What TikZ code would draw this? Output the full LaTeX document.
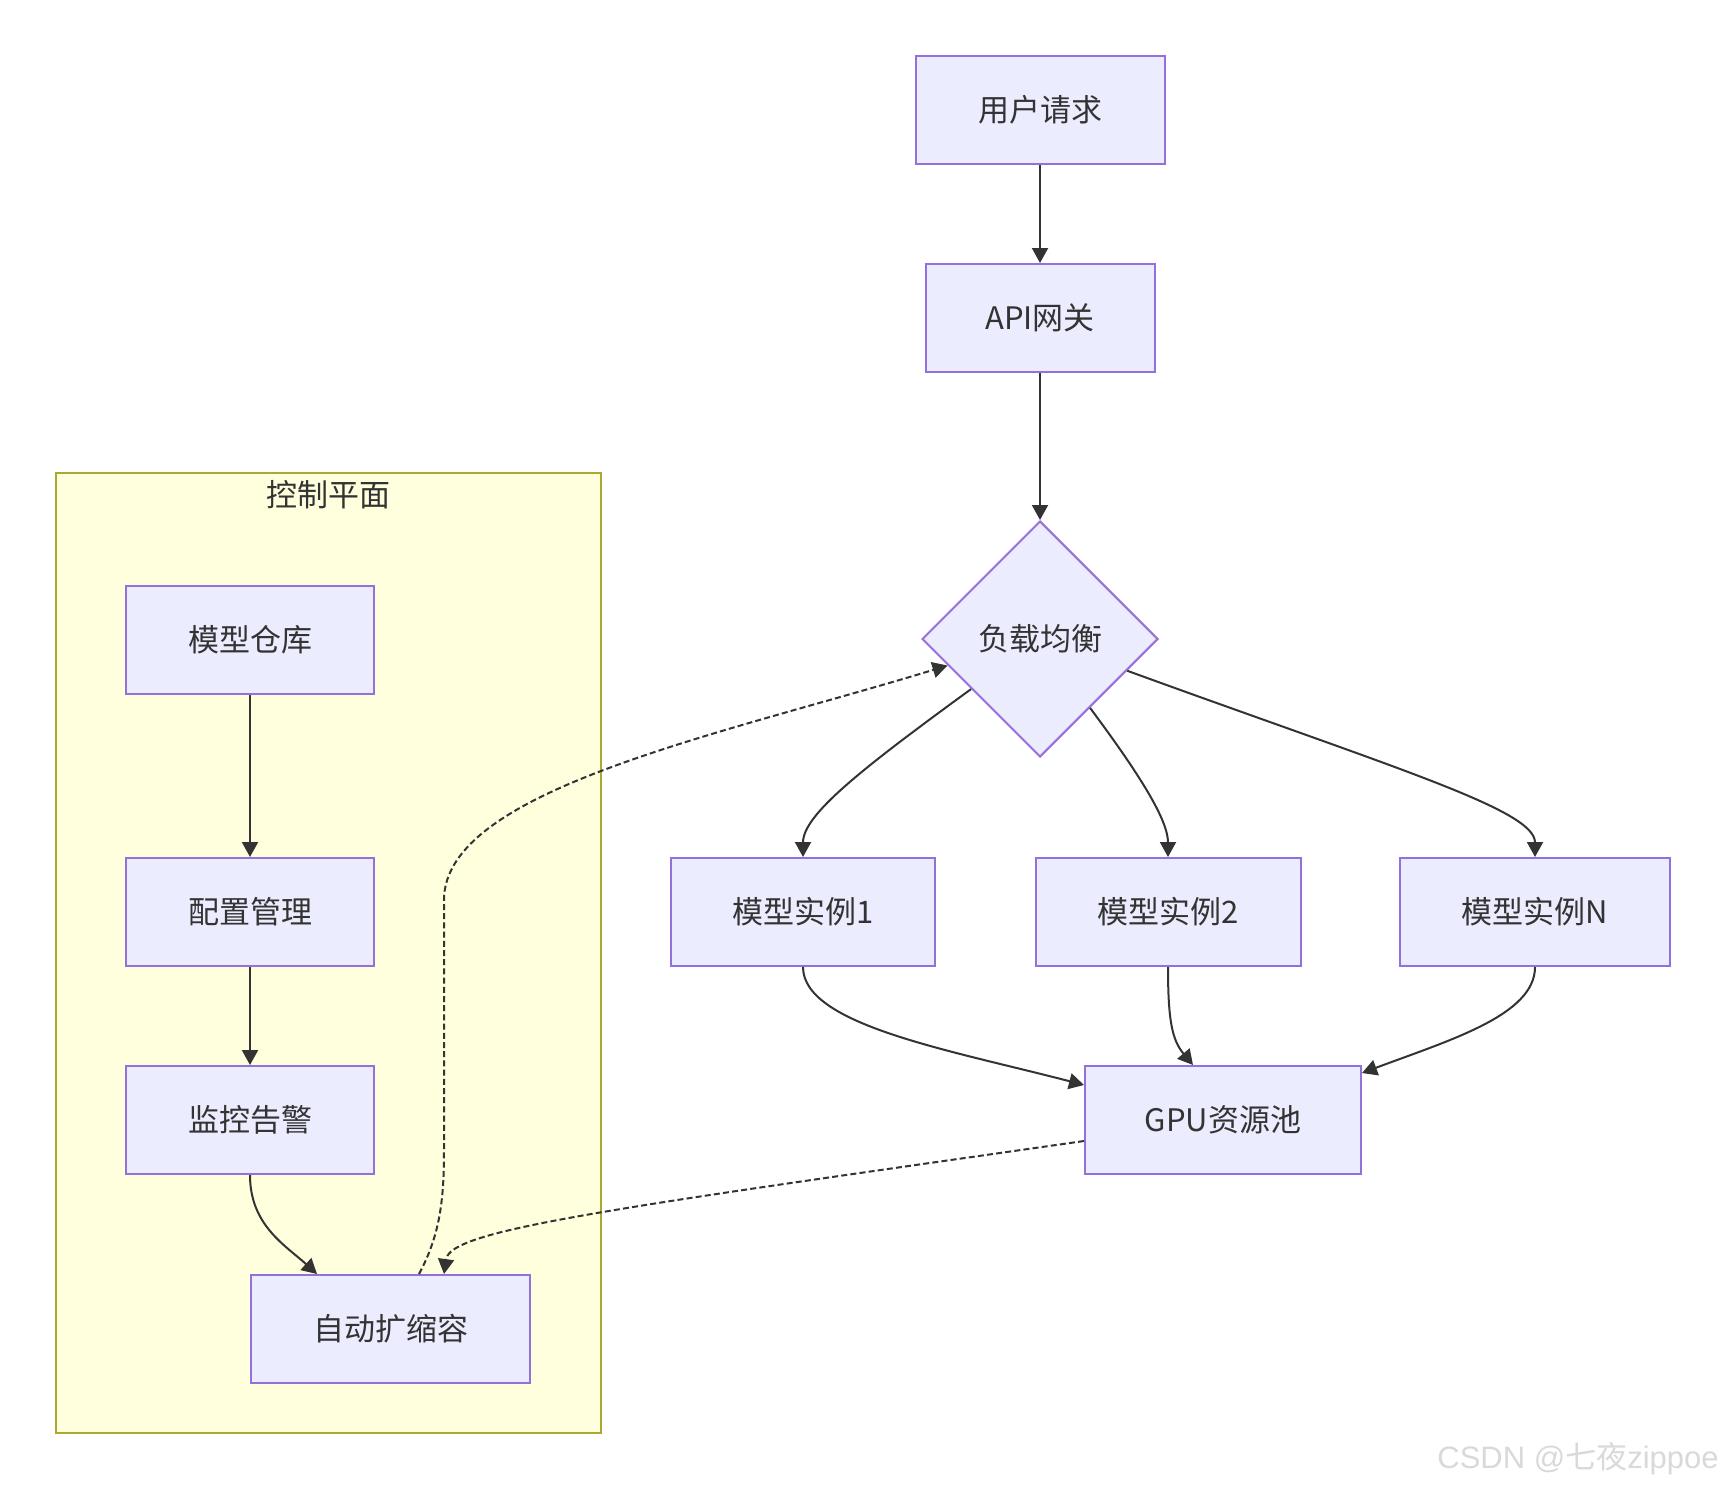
\documentclass[tikz,border=0pt]{standalone}
\usepackage{fontspec}
\setmainfont{Noto Sans CJK SC}
\newfontfamily\markfont{Liberation Sans}
\newfontfamily\cjk{Noto Sans CJK SC}
\usetikzlibrary{arrows.meta,shapes.geometric,positioning}
\definecolor{nodefill}{HTML}{ECECFF}
\definecolor{nodeline}{HTML}{9370DB}
\definecolor{clusterfill}{HTML}{FFFFDE}
\definecolor{clusterline}{HTML}{AAAA33}
\definecolor{ink}{HTML}{333333}

\begin{document}
\begin{tikzpicture}
  [
  x=0.5pt, y=-0.5pt,
  font=\fontsize{15.5pt}{18pt}\selectfont, text=ink, line width=1pt, >={Triangle[length=7.5pt,width=8pt]},
  block/.style={rectangle, minimum height=54pt, minimum width=124pt, draw=nodeline, fill=nodefill, inner sep=0pt},
  decision/.style={diamond, minimum width=118pt, minimum height=118pt, draw=nodeline, fill=nodefill, inner sep=0pt},
  flow/.style={draw=ink, ->},
  feedback/.style={draw=ink, ->, dash pattern=on 3pt off 1.6pt}
  ]
\useasboundingbox (0,0) rectangle (1723,1488);

% control plane
\draw[draw=clusterline, fill=clusterfill] (56,473) rectangle (601,1433);
\node (cp) at (328,495) {控制平面};

\node[block] (repo) at (250,640) {模型仓库};
\node[block] (conf) at (250,912) {配置管理};
\node[block] (mon) at (250,1120) {监控告警};
\node[block, minimum width=139.5pt] (auto) at (390.5,1329) {自动扩缩容};

% serving path
\node[block, minimum width=124.5pt] (req) at (1040,110) {用户请求};
\node[block, minimum width=114.5pt] (api) at (1040,318) {API网关};
\node[decision] (lb) at (1040,639) {负载均衡};

\foreach \i/\x/\w in {1/803/132, 2/1168/132.5, N/1535/135} {
  \node[block, minimum width=\w pt] (inst\i) at (\x,912) {模型实例\i};
}
\node[block, minimum width=138pt] (gpu) at (1223,1120) {GPU资源池};

\draw[flow] (req) -- (api);
\draw[flow] (api) -- (lb);
\draw[flow] (lb.216) .. controls (860,770) and (803,815) .. (inst1.north);
\draw[flow] (lb.-54) .. controls (1140,775) and (1168,820) .. (inst2.north);
\draw[flow] (lb.-20) .. controls (1400,770) and (1535,810) .. (instN.north);

\draw[flow] (inst1.south) .. controls (803,1025) and (950,1050) .. ([yshift=-10pt]gpu.north west);
\draw[flow] (inst2.south) .. controls (1168,1020) and (1172,1040) .. ([xshift=-15pt]gpu.north);
\draw[flow] (instN.south) .. controls (1535,1015) and (1450,1040) .. ([yshift=-4pt]gpu.north east);

\draw[flow] (repo) -- (conf);
\draw[flow] (conf) -- (mon);
\draw[flow] (mon.south) .. controls (250,1225) and (285,1245) .. ([xshift=-36.75pt]auto.north);

% feedback loops
\draw[feedback] ([xshift=14.25pt]auto.north) .. controls (440,1235) and (444,1200) .. (444,1150)
  -- (444,900) .. controls (444,790) and (720,735) .. (lb.196);
\draw[feedback] ([yshift=-10.5pt]gpu.west) .. controls (600,1210) and (450,1230) .. ([xshift=26.75pt]auto.north);

\node[text=gray!30, font=\markfont\fontsize{15.5pt}{18pt}\selectfont] (mark) at (1578,1459) {CSDN @{\cjk 七夜}zippoe};
\end{tikzpicture}
\end{document}
